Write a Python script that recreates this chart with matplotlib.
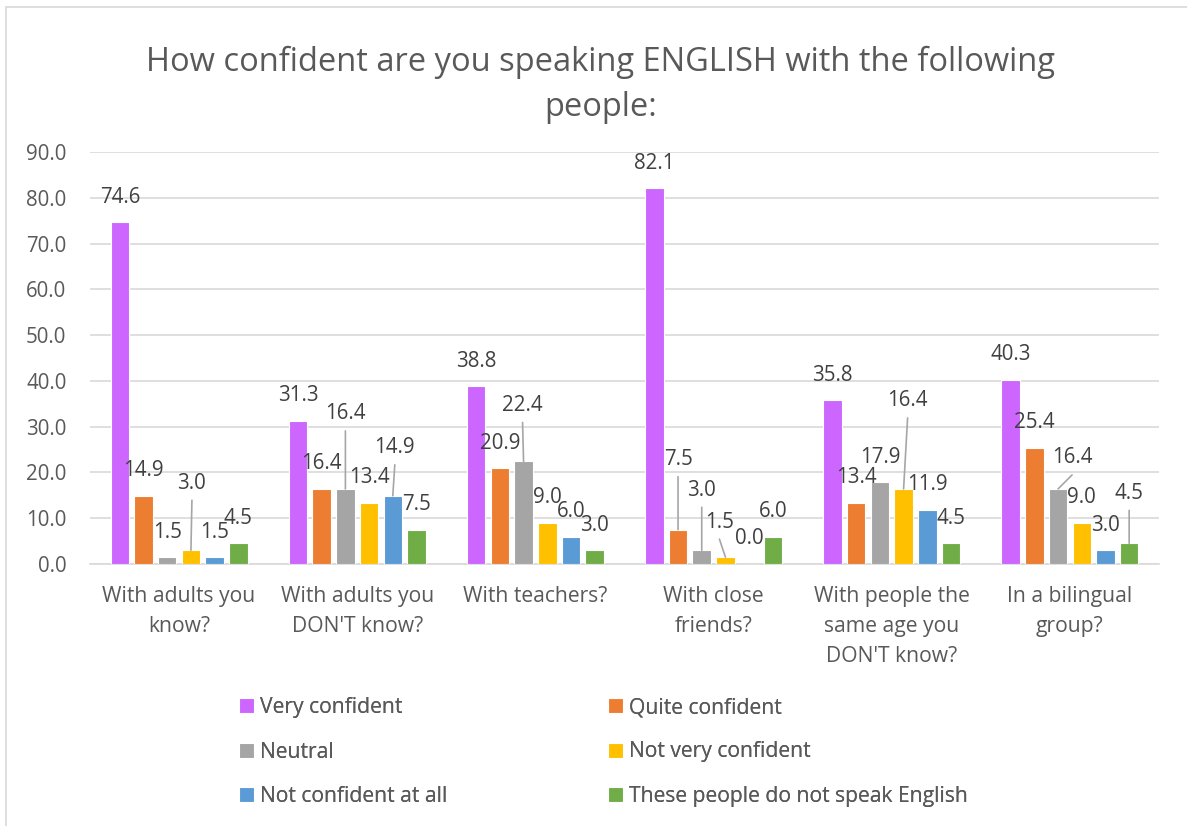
import matplotlib
matplotlib.use("Agg")
import matplotlib.pyplot as plt
import matplotlib.patches as mpatches
import numpy as np

plt.rcParams['font.family'] = ['Open Sans', 'DejaVu Sans']

categories = ["With adults you\nknow?", "With adults you\nDON'T know?", "With teachers?",
              "With close\nfriends?", "With people the\nsame age you\nDON'T know?",
              "In a bilingual\ngroup?"]
series_names = ["Very confident", "Quite confident", "Neutral", "Not very confident",
                "Not confident at all", "These people do not speak English"]
very_confident = [74.6, 31.3, 38.8, 82.1, 35.8, 40.3]
quite_confident = [14.9, 16.4, 20.9, 7.5, 13.4, 25.4]
neutral = [1.5, 16.4, 22.4, 3.0, 17.9, 16.4]
not_very_confident = [3.0, 13.4, 9.0, 1.5, 16.4, 9.0]
not_confident_at_all = [1.5, 14.9, 6.0, 0.0, 11.9, 3.0]
no_english = [4.5, 7.5, 3.0, 6.0, 4.5, 4.5]
series = [very_confident, quite_confident, neutral, not_very_confident,
          not_confident_at_all, no_english]
colors = ["#CC66FF", "#ED7D31", "#A5A5A5", "#FFC000", "#5B9BD5", "#70AD47"]

# label nudges in pixels (dx, dy of label centre above bar top); default (0, 25)
label_shift = {
    (0, 3): (1, 67),
    (1, 2): (0, 75),
    (1, 4): (2, 48),
    (2, 2): (-1, 56),
    (3, 1): (0, 70),
    (3, 2): (0, 60),
    (3, 3): (-6, 35),
    (4, 3): (4, 88),
    (5, 2): (14, 31),
    (5, 5): (0, 50),
}

W, H = 1187, 826
fig = plt.figure(figsize=(W / 100, H / 100), dpi=100)
ax = fig.add_axes([90 / W, 1 - 564 / H, (1159 - 90) / W, (564 - 152) / H])

text_color = "#595959"
fs = 14.8
px = 0.72  # points per pixel

x = np.arange(len(categories))
step = 0.133
width = 0.104
for i, (name, vals, c) in enumerate(zip(series_names, series, colors)):
    pos = x + (i - 2.5) * step
    ax.bar(pos, vals, width=width, color=c, edgecolor="white", linewidth=0.8,
           label=name, zorder=3)
    for g, (xp, v) in enumerate(zip(pos, vals)):
        dx, dy = label_shift.get((g, i), (0, 25))
        ax.annotate(f"{v:.1f}", xy=(xp, v), xytext=(dx * px, dy * px),
                    textcoords="offset points", ha="center", va="center",
                    fontsize=fs, color="#404040", zorder=5)
        if dy > 30:
            ax.annotate("", xy=(xp, v), xytext=(dx * px, (dy - 17) * px),
                        textcoords="offset points",
                        arrowprops=dict(arrowstyle="-", color="#A6A6A6", lw=1.2,
                                        shrinkA=0, shrinkB=0), zorder=4)

ax.set_xlim(-0.5, len(categories) - 0.5)
ax.set_ylim(0, 90)
ax.set_yticks(np.arange(0, 91, 10))
ax.set_yticklabels([f"{t:.1f}" for t in np.arange(0, 91, 10)])
ax.set_xticks(x)
ax.set_xticklabels(categories, linespacing=1.55)
ax.tick_params(axis="both", length=0, labelsize=fs, labelcolor=text_color)
ax.tick_params(axis="x", labelsize=15.2)
ax.tick_params(axis="y", pad=17)
ax.tick_params(axis="x", pad=16)
ax.grid(axis="y", color="#D9D9D9", linewidth=1.2, zorder=0)
for s in ["top", "right", "left"]:
    ax.spines[s].set_visible(False)
ax.spines["bottom"].set_color("#D9D9D9")
ax.spines["bottom"].set_linewidth(1.2)

fig.text(0.506, 1 - 62 / H, "How confident are you speaking ENGLISH with the following",
         ha="center", va="center", fontsize=23.5, color=text_color)
fig.text(0.506, 1 - 107 / H, "people:", ha="center", va="center", fontsize=23.5,
         color=text_color)

# two legend columns, each anchored at its own left edge
handles, labels = ax.get_legend_handles_labels()
for cols, left in (([0, 2, 4], 239), ([1, 3, 5], 608)):
    leg = fig.legend([handles[k] for k in cols], [labels[k] for k in cols],
                     loc="center left", bbox_to_anchor=(left / W, 1 - 752 / H),
                     frameon=False, fontsize=15.2, labelcolor=text_color,
                     handlelength=0.7, handleheight=0.7, handletextpad=0.3,
                     labelspacing=1.1, borderpad=0, borderaxespad=0)
    fig.add_artist(leg)

fig.patches.append(mpatches.Rectangle((6 / W, -0.1), 2, 1 - 7 / H + 0.1,
                                      transform=fig.transFigure, fill=False,
                                      edgecolor="#D9D9D9", linewidth=1.2))

fig.savefig("out.png", dpi=100, facecolor="white")
